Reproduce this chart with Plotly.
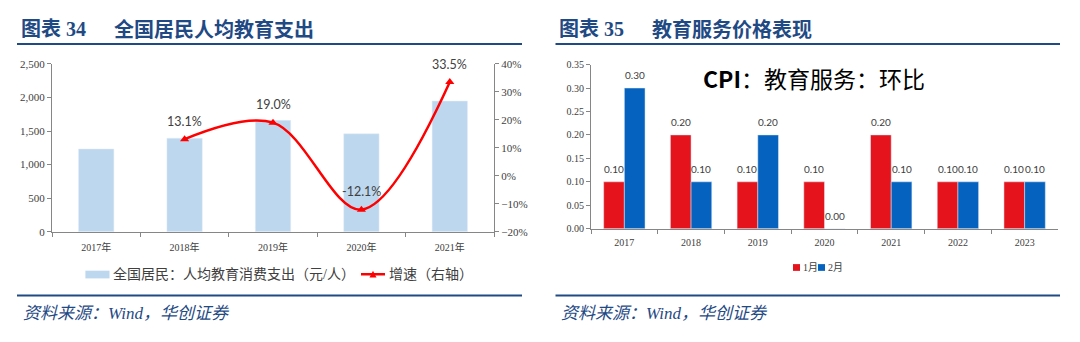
import plotly.graph_objects as go

# Figure 34: per-capita education spending (bars, left axis) and growth (line, right axis)
years_a = ["2017年", "2018年", "2019年", "2020年", "2021年"]
spend = [1233, 1394, 1659, 1459, 1947]
growth_years = ["2018年", "2019年", "2020年", "2021年"]
growth = [13.1, 19.0, -12.1, 33.5]

# Figure 35: CPI education services, month-on-month, January vs February
years_b = ["2017", "2018", "2019", "2020", "2021", "2022", "2023"]
jan = [0.10, 0.20, 0.10, 0.10, 0.20, 0.10, 0.10]
feb = [0.30, 0.10, 0.20, 0.00, 0.10, 0.10, 0.10]

W, H = 1080, 342


def px(x):
    return x / W


def py(y):
    return 1 - y / H


SERIF = "Liberation Serif, Noto Sans CJK SC"
CJK = "Noto Sans CJK SC"
NAVY = "#1F4A84"
AXIS = "#868686"
TXT = "#404040"
RED = "#E4131C"
BLUE = "#0562BE"

fig = go.Figure()

fig.add_trace(go.Bar(
    x=years_a, y=spend, width=0.4, marker_color="#BDD7EE",
    xaxis="x", yaxis="y", showlegend=False,
))
fig.add_trace(go.Scatter(
    x=growth_years, y=growth, mode="lines+markers",
    line=dict(color="#FF0000", width=2.5, shape="spline", smoothing=1.0),
    marker=dict(symbol="triangle-up", size=8, color="#FF0000"),
    xaxis="x", yaxis="y2", showlegend=False,
))

BW = 0.31
fig.add_trace(go.Bar(
    x=years_b, y=jan, width=BW, offset=-BW, marker_color=RED,
    xaxis="x3", yaxis="y3", showlegend=False,
))
fig.add_trace(go.Bar(
    x=years_b, y=feb, width=BW, offset=0, marker_color=BLUE,
    xaxis="x3", yaxis="y3", showlegend=False,
))

tickfont = dict(family=SERIF, size=10, color=TXT)
common = dict(showgrid=False, zeroline=False, showline=True, linecolor=AXIS,
              linewidth=1, ticks="outside", ticklen=4, tickcolor=AXIS)

fig.update_layout(
    width=W, height=H, margin=dict(l=0, r=0, t=0, b=0),
    paper_bgcolor="white", plot_bgcolor="white", barmode="overlay",
    xaxis=dict(domain=[px(52), px(494)], anchor="y", type="category",
               range=[-0.5, 4.5], tickson="boundaries", tickfont=tickfont,
               ticklabelstandoff=6, **common),
    yaxis=dict(domain=[py(234), py(60)], anchor="x", range=[0, 2500],
               dtick=500, tickformat=",d",
               tickfont=dict(family=SERIF, size=11, color=TXT), **common),
    yaxis2=dict(overlaying="y", side="right", anchor="x", range=[-20, 40],
                dtick=10, ticksuffix="%",
                tickfont=dict(family=SERIF, size=11, color=TXT), **common),
    xaxis3=dict(domain=[px(591), px(1058)], anchor="y3", type="category",
                range=[-0.5, 6.5], tickson="boundaries", tickfont=tickfont,
                ticklabelstandoff=4, **common),
    yaxis3=dict(domain=[py(230.8), py(60.7)], anchor="x3", range=[0, 0.35],
                dtick=0.05, tickformat=".2f", tickfont=tickfont, **common),
)

ann = []

# growth labels above the line markers
for yr, g in zip(growth_years, growth):
    ann.append(dict(x=years_a.index(yr), y=g, xref="x", yref="y2",
                    text=f"{g:.1f}%", showarrow=False, yshift=18,
                    font=dict(family="Lato", size=12.5, color=TXT)))

# value labels above the CPI bars (category index positions)
for i, (a, b) in enumerate(zip(jan, feb)):
    for v, dx in ((a, -10.4), (b, 10.4)):
        ann.append(dict(x=i, y=v, xref="x3", yref="y3", text=f"{v:.2f}",
                        showarrow=False, xshift=dx, yshift=13,
                        font=dict(family="Lato", size=10, color=TXT)))

# panel headings
title_font = dict(family=SERIF, size=20, color=NAVY)
ann += [
    dict(x=px(19), y=py(24), xref="paper", yref="paper", text="<b>图表 34</b>",
         xanchor="left", yanchor="middle", showarrow=False, font=title_font),
    dict(x=px(112), y=py(24), xref="paper", yref="paper",
         text="<b>全国居民人均教育支出</b>", xanchor="left", yanchor="middle",
         showarrow=False, font=title_font),
    dict(x=px(557), y=py(24), xref="paper", yref="paper", text="<b>图表 35</b>",
         xanchor="left", yanchor="middle", showarrow=False, font=title_font),
    dict(x=px(650), y=py(24), xref="paper", yref="paper",
         text="<b>教育服务价格表现</b>", xanchor="left", yanchor="middle",
         showarrow=False, font=title_font),
]

# in-chart title of the CPI panel
ann.append(dict(x=px(814), y=py(75), xref="paper", yref="paper",
                text="<b>CPI</b>：教育服务：环比", xanchor="center",
                yanchor="middle", showarrow=False,
                font=dict(family=CJK, size=23, color="#000000")))

# legends
leg_font = dict(family=SERIF, size=14, color=TXT)
ann += [
    dict(x=px(111), y=py(278), xref="paper", yref="paper",
         text="全国居民：人均教育消费支出（元/人）", xanchor="left",
         yanchor="middle", showarrow=False, font=leg_font),
    dict(x=px(387), y=py(278), xref="paper", yref="paper",
         text="增速（右轴）", xanchor="left", yanchor="middle",
         showarrow=False, font=leg_font),
    dict(x=px(800.5), y=py(271), xref="paper", yref="paper", text="1月",
         xanchor="left", yanchor="middle", showarrow=False,
         font=dict(family=SERIF, size=10, color=TXT)),
    dict(x=px(825.5), y=py(271), xref="paper", yref="paper", text="2月",
         xanchor="left", yanchor="middle", showarrow=False,
         font=dict(family=SERIF, size=10, color=TXT)),
]

# source notes
src_font = dict(family=SERIF, size=17, color=NAVY)
for x0 in (21, 559):
    ann.append(dict(x=px(x0), y=py(319), xref="paper", yref="paper",
                    text="<i>资料来源：Wind，华创证券</i>", xanchor="left",
                    yanchor="middle", showarrow=False, font=src_font))

fig.update_layout(annotations=ann)

shapes = []
# heading underlines and footer rules
for x0, x1 in ((17, 522), (555.5, 1060)):
    for yy in (39.5, 300):
        shapes.append(dict(type="line", xref="paper", yref="paper",
                           x0=px(x0), x1=px(x1), y0=py(yy), y1=py(yy),
                           line=dict(color=NAVY, width=2)))

# legend swatches
shapes.append(dict(type="rect", xref="paper", yref="paper",
                   x0=px(85.4), x1=px(109.5), y0=py(282.3), y1=py(274.3),
                   fillcolor="#BDD7EE", line=dict(width=0)))
shapes.append(dict(type="line", xref="paper", yref="paper",
                   x0=px(361), x1=px(385), y0=py(278), y1=py(278),
                   line=dict(color="#FF0000", width=2.5)))
tri = [(369.5, 281.5), (376.5, 281.5), (373, 274.5)]
path = "M " + " L ".join(f"{px(a):.5f},{py(b):.5f}" for a, b in tri) + " Z"
shapes.append(dict(type="path", xref="paper", yref="paper", path=path,
                   fillcolor="#FF0000", line=dict(width=0)))
shapes.append(dict(type="rect", xref="paper", yref="paper",
                   x0=px(793), x1=px(800), y0=py(274.5), y1=py(267.5),
                   fillcolor=RED, line=dict(width=0)))
shapes.append(dict(type="rect", xref="paper", yref="paper",
                   x0=px(818), x1=px(825), y0=py(274.5), y1=py(267.5),
                   fillcolor=BLUE, line=dict(width=0)))

fig.update_layout(shapes=shapes)

fig.write_html("out.html")
